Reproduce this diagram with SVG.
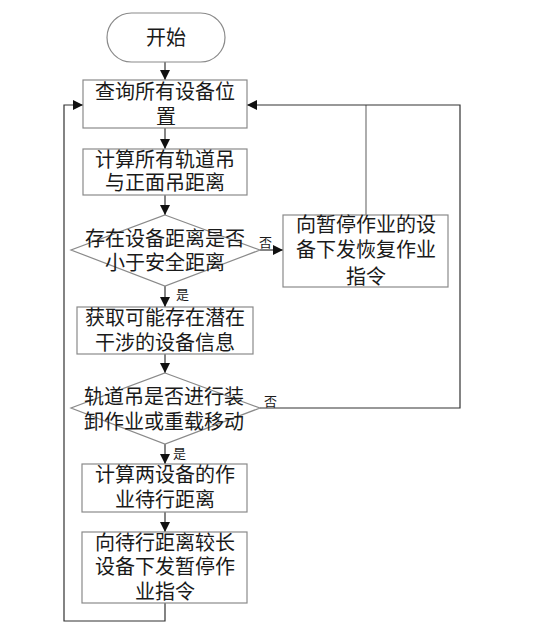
<svg xmlns="http://www.w3.org/2000/svg" width="536" height="644" viewBox="0 0 536 644">
<style>
.n{fill:#fff;stroke:#8a8a8a;stroke-width:1.2}
.t{font-family:"Noto Sans CJK SC","Liberation Sans",sans-serif;font-size:20px;fill:#1a1a1a;text-anchor:middle}
.s{font-family:"Noto Sans CJK SC","Liberation Sans",sans-serif;font-size:13px;fill:#1a1a1a}
.c{fill:none;stroke:#333;stroke-width:1.2}
.g{fill:none;stroke:#777;stroke-width:1.2}
</style>
<defs>
<marker id="a" markerWidth="10" markerHeight="10" refX="10" refY="5" orient="auto" markerUnits="userSpaceOnUse" viewBox="0 0 10 10">
<path d="M0,0 L10,5 L0,10 Z" fill="#111"/>
</marker>
</defs>
<rect width="536" height="644" fill="#fff"/>
<g id="connectors">
<line class="c" x1="165" y1="62" x2="165" y2="80" marker-end="url(#a)"/>
<line class="c" x1="165" y1="128" x2="165" y2="149" marker-end="url(#a)"/>
<line class="c" x1="165" y1="195" x2="165" y2="215" marker-end="url(#a)"/>
<line class="c" x1="260" y1="250" x2="283" y2="250" marker-end="url(#a)"/>
<line class="c" x1="165" y1="286" x2="165" y2="307" marker-end="url(#a)"/>
<line class="c" x1="165" y1="354" x2="165" y2="373" marker-end="url(#a)"/>
<line class="c" x1="165" y1="444" x2="165" y2="464" marker-end="url(#a)"/>
<line class="c" x1="165" y1="512" x2="165" y2="532" marker-end="url(#a)"/>
<polyline class="g" points="366,215 366,105"/>
<polyline class="c" points="260,408 460,408 460,105 247,105" marker-end="url(#a)"/>
<polyline class="c" points="165,603 165,621 64,621 64,105 83,105" marker-end="url(#a)"/>
<text class="s" x="259" y="247">否</text>
<text class="s" x="264" y="406">否</text>
<text class="s" x="176" y="299">是</text>
<text class="s" x="173" y="458">是</text>
</g>
<g id="start">
<rect class="n" x="107" y="13" width="118" height="49" rx="24.5"/>
<text class="t" x="166" y="45">开始</text>
</g>
<g id="query">
<rect class="n" x="83" y="80" width="164" height="48"/>
<text class="t" x="165" y="99">查询所有设备位</text>
<text class="t" x="166" y="124">置</text>
</g>
<g id="calc">
<rect class="n" x="83" y="149" width="164" height="46"/>
<text class="t" x="165" y="167">计算所有轨道吊</text>
<text class="t" x="165" y="190">与正面吊距离</text>
</g>
<g id="check">
<polygon class="n" points="165,215 260,250 165,286 71,250"/>
<text class="t" x="165" y="246">存在设备距离是否</text>
<text class="t" x="165" y="270">小于安全距离</text>
</g>
<g id="resume">
<rect class="n" x="283" y="215" width="165" height="72"/>
<text class="t" x="366" y="232">向暂停作业的设</text>
<text class="t" x="366" y="257">备下发恢复作业</text>
<text class="t" x="366" y="284">指令</text>
</g>
<g id="fetch">
<rect class="n" x="77" y="307" width="176" height="47"/>
<text class="t" x="165" y="325">获取可能存在潜在</text>
<text class="t" x="165" y="350">干涉的设备信息</text>
</g>
<g id="crane">
<polygon class="n" points="165,373 260,408 165,444 71,408"/>
<text class="t" x="164" y="404">轨道吊是否进行装</text>
<text class="t" x="164" y="429">卸作业或重载移动</text>
</g>
<g id="dist">
<rect class="n" x="82" y="464" width="165" height="48"/>
<text class="t" x="165" y="482">计算两设备的作</text>
<text class="t" x="165" y="507">业待行距离</text>
</g>
<g id="pause">
<rect class="n" x="82" y="532" width="165" height="71"/>
<text class="t" x="165" y="550">向待行距离较长</text>
<text class="t" x="165" y="574">设备下发暂停作</text>
<text class="t" x="165" y="599">业指令</text>
</g>
</svg>
